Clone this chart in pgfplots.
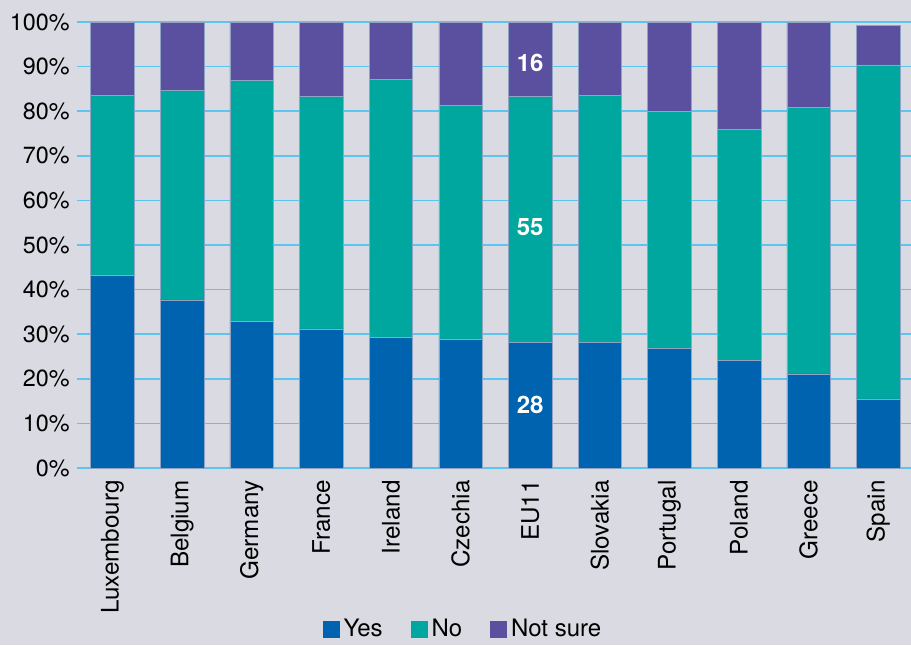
\documentclass[border=0pt]{standalone}
\usepackage{pgfplots}
\pgfplotsset{compat=1.18}
\usepackage{fontspec}
\setmainfont{TeX Gyre Heros}
\definecolor{cyes}{HTML}{0063B0}
\definecolor{cno}{HTML}{00A79E}
\definecolor{cns}{HTML}{5B4F9F}
\definecolor{gridc}{HTML}{5BC5F0}
\definecolor{bgc}{HTML}{DADAE3}
\definecolor{edgec}{HTML}{8FA3C4}
\begin{document}
\begin{tikzpicture}
\fill[bgc] (0,0) rectangle (455.5pt,322.5pt);
\begin{axis}[
  at={(38.5pt,88.5pt)}, anchor=south west,
  scale only axis, width=417pt, height=223pt,
  ybar stacked, bar width=21.75pt,
  xmin=-0.51, xmax=11.47, ymin=0, ymax=100,
  xtick={0,...,11},
  xticklabels={Luxembourg,Belgium,Germany,France,Ireland,Czechia,EU11,Slovakia,Portugal,Poland,Greece,Spain},
  ytick={0,10,...,100},
  yticklabel={\pgfmathprintnumber{\tick}\%},
  /pgf/number format/assume math mode=true,
  axis line style={draw=none},
  major tick length=0pt,
  ymajorgrids, grid style={color=gridc, line width=0.8pt},
  yticklabel style={inner sep=0pt, xshift=-3.5pt, font=\fontsize{11.7}{13}\selectfont, text=black},
  xticklabel style={rotate=90, anchor=east, inner sep=0pt, xshift=-6pt, font=\fontsize{12.1}{13}\selectfont, text=black},
  legend columns=-1,
  legend style={at={(0.464,-0.362)}, anchor=center, draw=none, fill=none,
    font=\fontsize{12}{13}\selectfont, inner sep=0pt,
    /tikz/every even column/.append style={column sep=12pt}},
  legend image code/.code={\fill[#1,draw=none] (0pt,-4.2pt) rectangle (8.4pt,4.2pt);},
  every axis plot/.append style={draw=edgec, line width=0.3pt},
]
\addplot[fill=cyes] coordinates {(0,43.1) (1,37.7) (2,32.8) (3,31.2) (4,29.2) (5,28.9) (6,28.1) (7,28.1) (8,26.8) (9,24.1) (10,21.1) (11,15.5)};
\addplot[fill=cno] coordinates {(0,40.5) (1,47.0) (2,54.1) (3,52.1) (4,57.9) (5,52.4) (6,55.3) (7,55.5) (8,53.2) (9,51.9) (10,59.8) (11,74.9)};
\addplot[fill=cns] coordinates {(0,16.4) (1,15.3) (2,13.1) (3,16.7) (4,12.9) (5,18.7) (6,16.6) (7,16.4) (8,20.0) (9,24.0) (10,19.1) (11,8.9)};
\legend{Yes,No,Not sure}
\coordinate (l16) at (axis cs:6,90.8);
\coordinate (l55) at (axis cs:6,54.0);
\coordinate (l28) at (axis cs:6,14.1);
\end{axis}
\node[text=white, font=\bfseries\fontsize{12}{13}\selectfont] at (l16) {16};
\node[text=white, font=\bfseries\fontsize{12}{13}\selectfont] at (l55) {55};
\node[text=white, font=\bfseries\fontsize{12}{13}\selectfont] at (l28) {28};
\pgfresetboundingbox
\useasboundingbox (0,0) rectangle (455.5pt,322.5pt);
\end{tikzpicture}
\end{document}
